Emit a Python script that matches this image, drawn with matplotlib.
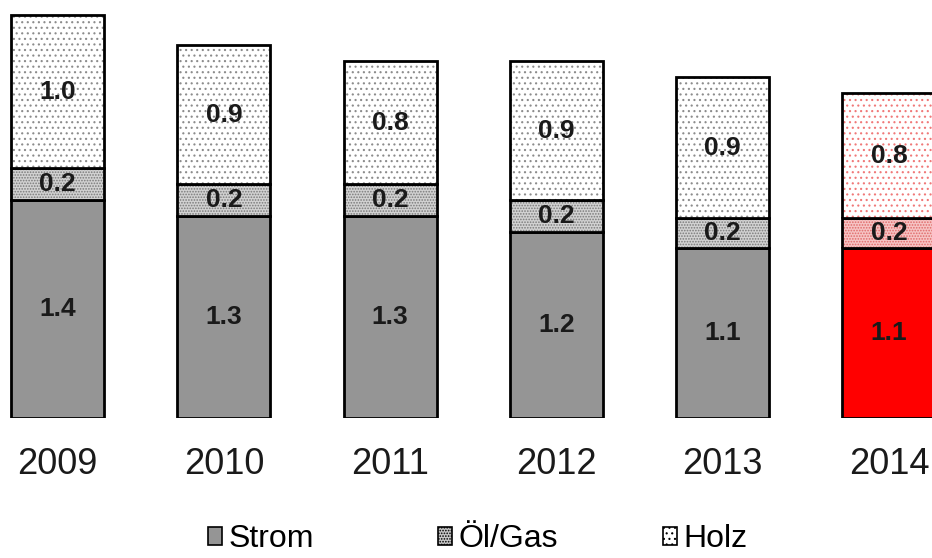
import numpy as np
import matplotlib.pyplot as plt
from matplotlib.patches import Patch

plt.rcParams['font.family'] = ['Liberation Sans', 'DejaVu Sans']
plt.rcParams['hatch.linewidth'] = 0.8

# Werte je Jahr (Mio.)
jahre = ['2009', '2010', '2011', '2012', '2013', '2014']
strom = [1.36, 1.26, 1.26, 1.16, 1.06, 1.06]
oel_gas = [0.20, 0.20, 0.20, 0.20, 0.19, 0.19]
holz = [0.96, 0.87, 0.77, 0.87, 0.88, 0.78]

# Farben: letztes Jahr rot hervorgehoben
grau = ['#959595'] * 5 + ['#ff0000']
oel_fl = ['#d2d2d2'] * 5 + ['#f6c4c4']
oel_punkt = ['#7a7a7a'] * 5 + ['#e06a6a']
holz_fl = ['white'] * 6
holz_punkt = ['#8c8c8c'] * 5 + ['#f07878']

fig = plt.figure(figsize=(9.32, 5.58), dpi=100)
ax = fig.add_axes([0, 0.2509, 1, 0.7491])

x = np.arange(len(jahre))
breite = 0.56
unten = np.zeros(len(jahre))

segmente = [
    (strom, grau, grau, None),
    (oel_gas, oel_fl, oel_punkt, '......'),
    (holz, holz_fl, holz_punkt, '...'),
]
for werte, fl, punkt, muster in segmente:
    werte = np.array(werte)
    ax.bar(x, werte, breite, bottom=unten, color=fl, edgecolor=punkt,
           hatch=muster, linewidth=0)
    ax.bar(x, werte, breite, bottom=unten, fill=False, edgecolor='black',
           linewidth=2.0)
    for xi, u, v in zip(x, unten, werte):
        ax.text(xi, u + v / 2, f'{v:.1f}', ha='center', va='center',
                fontsize=19, fontweight='bold', color='#1a1a1a')
    unten = unten + werte

ax.set_xlim(-0.346, 5.259)
ax.set_ylim(0, 2.6125)
ax.set_xticks(x, jahre, fontsize=26, color='#1a1a1a')
ax.tick_params(axis='x', length=0, pad=21)
ax.set_yticks([])
for s in ax.spines.values():
    s.set_visible(False)

# Legende: drei Einträge nebeneinander
eintraege = [
    ('Strom', Patch(facecolor='#959595', edgecolor='black', linewidth=1.2), 208),
    ('Öl/Gas', Patch(facecolor='#c8c8c8', edgecolor='black', hatch='......',
                     linewidth=1.2), 438),
    ('Holz', Patch(facecolor='white', edgecolor='black', hatch='...',
                   linewidth=1.2), 663),
]
for name, h, xpos in eintraege:
    fig.legend([h], [name], loc='center left',
               bbox_to_anchor=(xpos / 932, 1 - 539 / 558), frameon=False,
               fontsize=23, handlelength=0.45, handleheight=0.48,
               handletextpad=0.18, borderpad=0, borderaxespad=0)

fig.savefig('out.png', dpi=100)
